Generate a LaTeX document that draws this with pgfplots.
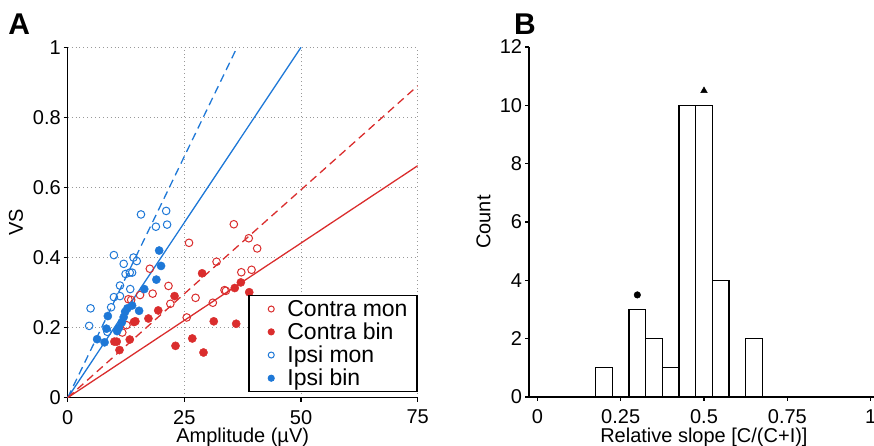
\documentclass[border=0pt]{standalone}
\usepackage{fontspec}
\setmainfont{Liberation Sans}
\usepackage{pgfplots}
\usepackage{pgfplotstable}
\pgfplotsset{compat=1.18}
\definecolor{cred}{RGB}{218,45,45}
\definecolor{cblue}{RGB}{30,120,215}
\newcommand{\myfontT}{\fontsize{20}{24}\selectfont}
\newcommand{\myfontL}{\fontsize{23}{27}\selectfont}

\pgfplotstableread{
x y
11.7 0.186
12.6 0.207
13.0 0.281
13.6 0.279
15.5 0.293
17.6 0.368
18.2 0.297
21.6 0.319
22.0 0.268
25.5 0.229
26.0 0.442
27.4 0.285
31.1 0.271
31.9 0.388
33.6 0.307
33.9 0.305
35.6 0.495
37.2 0.358
38.8 0.455
39.4 0.365
40.6 0.426
}\contramon

\pgfplotstableread{
x y
10.0 0.160
10.5 0.160
11.1 0.136
13.3 0.166
14.2 0.216
14.5 0.218
17.3 0.226
19.4 0.249
22.9 0.290
23.1 0.148
26.7 0.169
28.8 0.355
29.1 0.129
31.3 0.218
35.8 0.313
36.1 0.211
37.1 0.329
38.9 0.301
}\contrabin

\pgfplotstableread{
x y
4.6 0.205
4.9 0.255
8.5 0.188
9.3 0.258
9.9 0.287
11.2 0.290
11.2 0.320
13.4 0.310
12.4 0.353
13.3 0.357
13.8 0.357
12.0 0.382
14.1 0.400
14.8 0.390
9.9 0.407
15.7 0.523
21.1 0.533
21.3 0.494
18.9 0.488
}\ipsimon

\pgfplotstableread{
x y
19.6 0.420
20.0 0.376
19.0 0.337
16.4 0.310
15.3 0.248
13.8 0.263
12.8 0.255
12.3 0.245
11.6 0.215
11.0 0.200
10.6 0.190
8.6 0.233
8.3 0.197
6.3 0.167
7.9 0.158
12.0 0.230
}\ipsibin

\pgfplotsset{
  mystyle/.style={
    scale only axis,
    axis x line*=bottom, axis y line*=left,
    axis line style={line width=1.3pt, black},
    tick align=outside,
    major tick length=4pt,
    every tick/.style={line width=1.3pt, black},
    tick label style={font=\myfontT},
    /pgf/number format/assume math mode=true,
    xticklabel style={anchor=north, inner sep=0pt, yshift=-8.3pt},
    yticklabel style={anchor=east, inner sep=0pt, xshift=-2.7pt},
    label style={font=\myfontT, inner sep=0pt},
  },
  mylegimg/.style={legend image code/.code={
      \path (0pt,0pt) (17.5pt,0pt);
      \draw[##1, mark size=3.0pt, line width=1.1pt] plot coordinates {(14.5pt,0pt)};}},
}

\begin{document}
\begin{tikzpicture}[x=1pt,y=1pt]
\useasboundingbox (0,0) rectangle (874,446);

\begin{axis}[mystyle,
  at={(67.7pt,48.3pt)}, anchor=south west,
  width=350pt, height=350.4pt,
  xmin=0, xmax=75, ymin=0, ymax=1,
  xtick={0,25,50,75}, ytick={0,0.2,0.4,0.6,0.8,1},
  grid=major,
  grid style={line width=0.9pt, gray!80, dash pattern=on 0.9pt off 3pt},
  xlabel={Amplitude (µV)}, ylabel={VS},
  xlabel style={at={(axis description cs:0.5,-0.0865)}, anchor=north},
  ylabel style={at={(axis description cs:-0.1269,0.5)}, anchor=south, rotate=0},
  legend style={at={(1,0.015)}, anchor=south east, draw=black, line width=1.3pt,
    fill=white, inner xsep=7pt, inner ysep=2pt, row sep=0pt,
    nodes={inner sep=2.5pt},
    /tikz/every odd column/.append style={column sep=10pt}},
  legend cell align=left,
]
\addplot[cblue, line width=1.3pt, forget plot] coordinates {(0,0) (50,1)};
\addplot[cblue, line width=1.3pt, dash pattern=on 8pt off 5pt, forget plot] coordinates {(0,0) (36.3,1)};
\addplot[cred, line width=1.3pt, forget plot] coordinates {(0,0) (75,0.662)};
\addplot[cred, line width=1.3pt, dash pattern=on 8pt off 5pt, forget plot] coordinates {(0,0) (75,0.89)};

\addplot[only marks, mark=o, mark size=3.8pt, cred, mark options={line width=1pt}, mylegimg] table {\contramon};
\addlegendentry{\myfontL Contra mon}
\addplot[only marks, mark=*, mark size=4.1pt, cred, mark options={fill=cred, draw=cred}, mylegimg] table {\contrabin};
\addlegendentry{\myfontL Contra bin}
\addplot[only marks, mark=o, mark size=3.8pt, cblue, mark options={line width=1pt}, mylegimg] table {\ipsimon};
\addlegendentry{\myfontL Ipsi mon}
\addplot[only marks, mark=*, mark size=4.1pt, cblue, mark options={fill=cblue, draw=cblue}, mylegimg] table {\ipsibin};
\addlegendentry{\myfontL Ipsi bin}
\end{axis}

\begin{axis}[mystyle,
  at={(529pt,49pt)}, anchor=south west,
  width=345pt, height=350pt,
  xmin=-0.025, xmax=1.01, ymin=0, ymax=12,
  xtick={0,0.25,0.5,0.75,1}, ytick={0,2,4,6,8,10,12},
  xlabel={Relative slope [C/(C+I)]}, ylabel={Count},
  xlabel style={at={(axis description cs:0.507,-0.0894)}, anchor=north},
  ylabel style={at={(axis description cs:-0.1107,0.5)}, anchor=south, rotate=0},
]
\addplot[ybar interval, fill=white, draw=black, line width=1.3pt] coordinates {
 (0.175,1) (0.225,0) (0.275,3) (0.325,2) (0.375,1) (0.425,10) (0.475,10)
 (0.525,4) (0.575,0) (0.625,2) (0.675,0)};
\addplot[only marks, mark=*, mark size=3.3pt, black] coordinates {(0.3,3.5)};
\addplot[only marks, mark=triangle*, mark size=3.8pt, black] coordinates {(0.5,10.5)};
\end{axis}

\node[anchor=south west, inner sep=0pt, font=\fontsize{30}{36}\selectfont\bfseries] at (8.3,411) {A};
\node[anchor=south west, inner sep=0pt, font=\fontsize{30}{36}\selectfont\bfseries] at (514,411) {B};
\end{tikzpicture}
\end{document}
